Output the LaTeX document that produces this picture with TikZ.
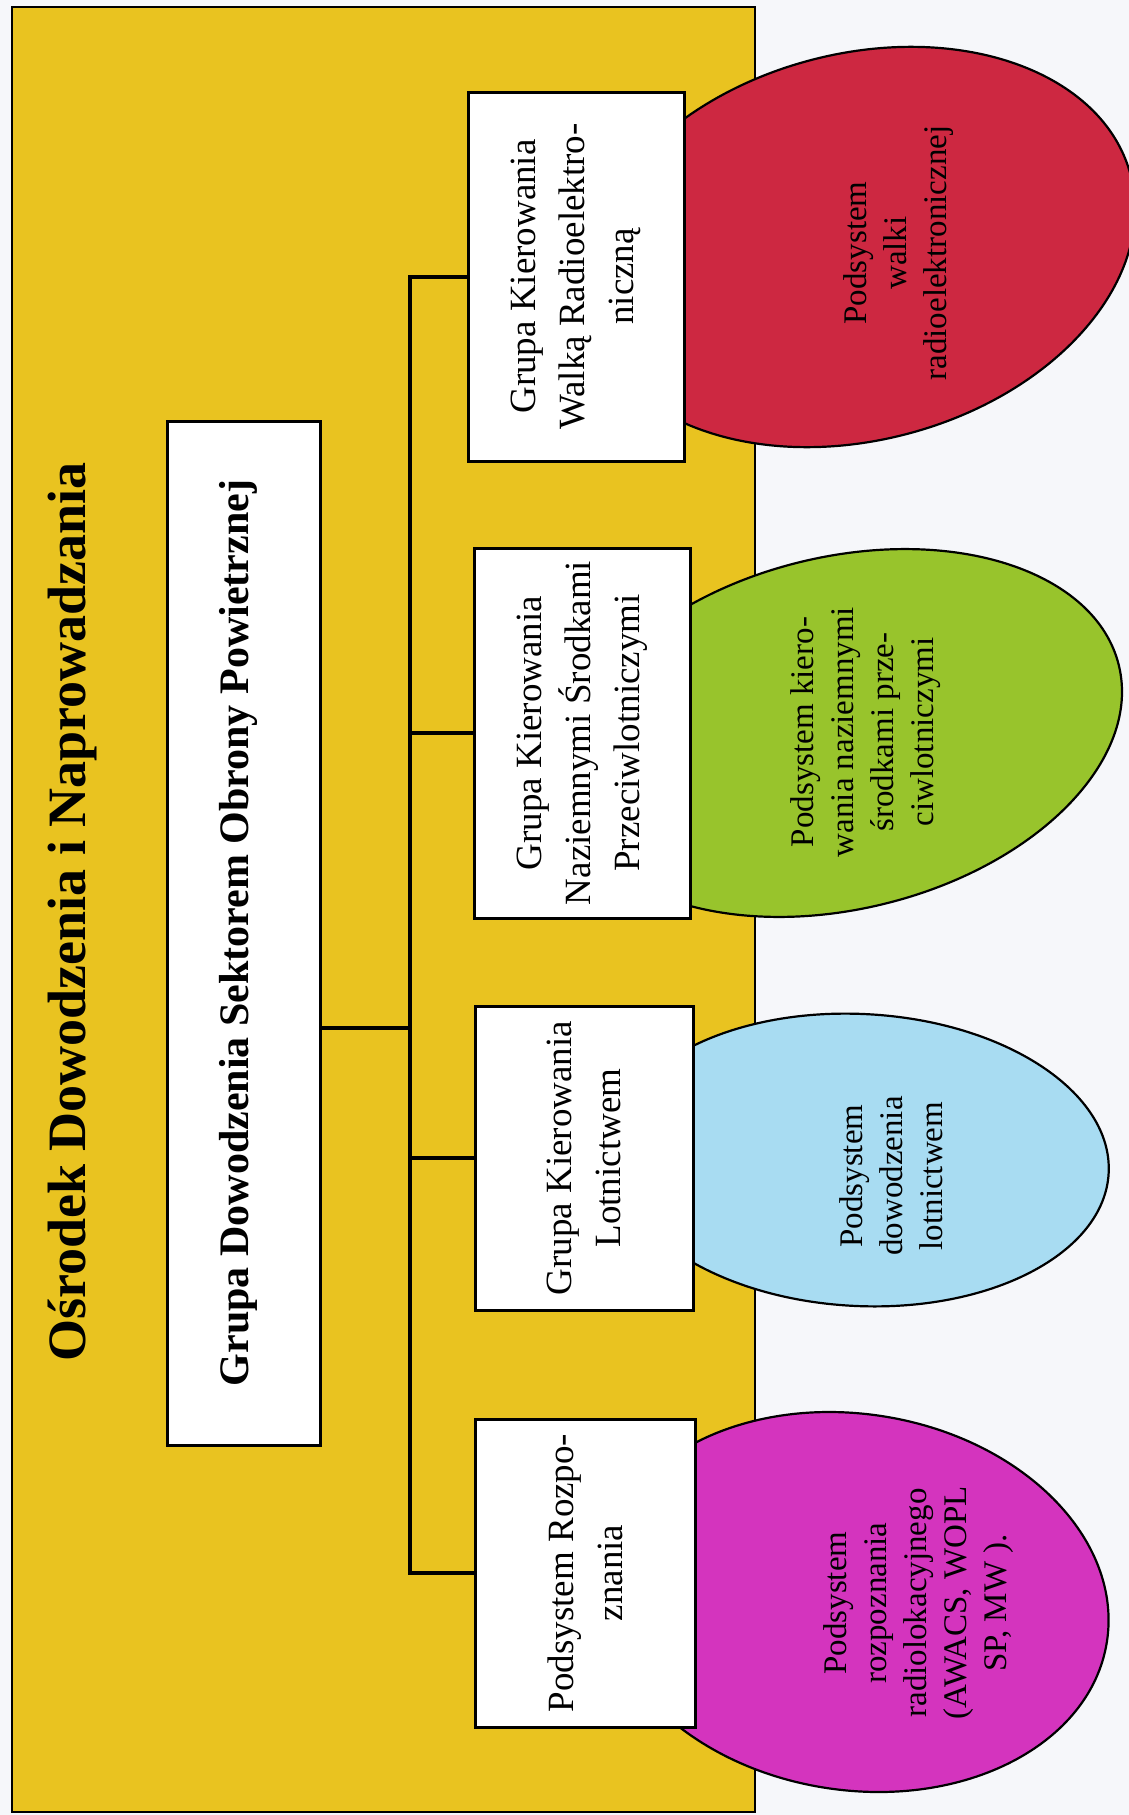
\documentclass[tikz,border=0pt]{standalone}
\usepackage{fontspec}
\setmainfont{Liberation Serif}
\usetikzlibrary{shapes.geometric}
\definecolor{paper}{RGB}{246,247,250}
\definecolor{panel}{RGB}{233,195,32}
\definecolor{ewred}{RGB}{205,40,65}
\definecolor{aagreen}{RGB}{152,196,44}
\definecolor{airblue}{RGB}{168,220,242}
\definecolor{recmag}{RGB}{212,52,190}
\begin{document}
\begin{tikzpicture}[x=0.5pt,y=-0.5pt,
  box/.style={draw=black, line width=1.5pt, fill=white, inner sep=0pt},
  boxtext/.style={rotate=90, align=center, inner sep=0pt, font=\fontsize{18.5}{24.5}\selectfont},
  blob/.style={draw=black, line width=1.1pt, ellipse, inner sep=0pt},
  blobtext/.style={rotate=90, align=center, inner sep=0pt, font=\fontsize{16.5}{20}\selectfont},
  link/.style={line width=2pt}]
\useasboundingbox (0,0) rectangle (1129,1815);
\clip (0,0) rectangle (1129,1815);
\fill[paper] (0,0) rectangle (1129,1815);

% outer panel
\draw[line width=1pt, fill=panel] (12,7) rectangle (755,1812);

% subsystem ellipses
\node[blob, fill=ewred,   minimum width=281pt, minimum height=193pt, rotate=15] (e1) at (859,247) {};
\node[blob, fill=aagreen, minimum width=285pt, minimum height=176pt, rotate=13.75] (e2) at (842,733) {};
\node[blob, fill=airblue, minimum width=249pt, minimum height=146pt, rotate=-3] (e3) at (860,1160) {};
\node[blob, fill=recmag,  minimum width=256pt, minimum height=188pt, rotate=-9] (e4) at (854,1602) {};

% boxes
\node[box, minimum width=76.5pt, minimum height=512pt] (main) at (243.5,933) {};
\node[box, minimum width=108pt, minimum height=184.5pt] (b1) at (576,276.5) {};
\node[box, minimum width=108pt, minimum height=185pt] (b2) at (582,733) {};
\node[box, minimum width=109pt, minimum height=152pt] (b3) at (584,1158) {};
\node[box, minimum width=110pt, minimum height=154pt] (b4) at (585,1573) {};

% tree connectors
\coordinate (bus) at (410,1028);
\draw[link] (main.east |- bus) -- (bus);
\draw[link] (b1.west) -| (bus) |- (b4.west);
\draw[link] (bus |- b2.west) -- (b2.west);
\draw[link] (bus |- b3.west) -- (b3.west);

% texts
\node[rotate=90, font=\bfseries\fontsize{27}{32}\selectfont] (title) at (72,912) {Ośrodek Dowodzenia i Naprowadzania};
\node[rotate=90, font=\bfseries\fontsize{21}{25}\selectfont] (maintxt) at (238,933) {Grupa Dowodzenia Sektorem Obrony Powietrznej};
\node[boxtext] (t1) at (b1) {Grupa Kierowania\\Walką Radioelektro-\\niczną};
\node[boxtext] (t2) at (b2) {Grupa Kierowania\\Naziemnymi Środkami\\Przeciwlotniczymi};
\node[boxtext] (t3) at (b3) {Grupa Kierowania\\Lotnictwem};
\node[boxtext] (t4) at (b4) {Podsystem Rozpo-\\znania};

\node[blobtext] (s1) at (899,253) {Podsystem\\walki\\radioelektronicznej};
\node[blobtext] (s2) at (866,732) {Podsystem kiero-\\wania naziemnymi\\środkami prze-\\ciwlotniczymi};
\node[blobtext] (s3) at (891,1176) {Podsystem\\dowodzenia\\lotnictwem};
\node[blobtext] (s4) at (919,1603) {Podsystem\\rozpoznania\\radiolokacyjnego\\(AWACS, WOPL\\SP, MW ).};
\end{tikzpicture}
\end{document}
